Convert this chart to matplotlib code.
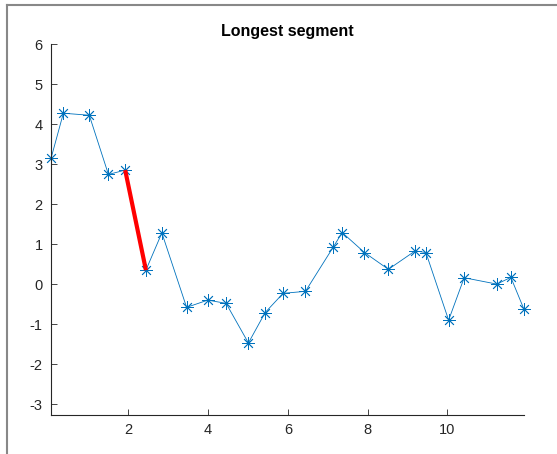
import numpy as np
import matplotlib.pyplot as plt
from matplotlib.lines import Line2D

# sample points
x = [0.06, 0.37, 1.02, 1.50, 1.92, 2.44, 2.84, 3.46, 3.99, 4.45, 5.01, 5.43, 5.88,
     6.44, 7.14, 7.36, 7.92, 8.52, 9.19, 9.46, 10.03, 10.42, 11.24, 11.59, 11.92]
y = [3.14, 4.27, 4.22, 2.74, 2.85, 0.35, 1.28, -0.58, -0.40, -0.48, -1.47, -0.71, -0.23,
     -0.18, 0.93, 1.29, 0.79, 0.37, 0.83, 0.79, -0.90, 0.16, 0.00, 0.17, -0.63]
yticks = [-3, -2, -1, 0, 1, 2, 3, 4, 5, 6]
xticks = [2, 4, 6, 8, 10]

plt.rcParams['font.family'] = ['Liberation Sans', 'DejaVu Sans']
plt.rcParams['axes.unicode_minus'] = False

xa = np.array(x)
ya = np.array(y)
seg = np.hypot(np.diff(xa), np.diff(ya))
k = int(np.argmax(seg))

fig = plt.figure(figsize=(5.57, 4.54), dpi=100)
ax = fig.add_axes([51 / 557, 39 / 454, 473 / 557, 371 / 454])

blue = '#0072BD'
ax.plot(xa, ya, '-', color=blue, lw=0.6, marker=(8, 2, 0), markersize=9,
        markeredgewidth=0.6, clip_on=False)
ax.plot(xa[k:k + 2], ya[k:k + 2], '-', color='red', lw=3, solid_capstyle='butt')

ax.set_xlim(x[0], x[-1])
ax.set_ylim(-3.27, 6)
ax.set_xticks(xticks)
ax.set_yticks(yticks)
ax.set_title('Longest segment', fontsize=11.5, fontweight='bold', pad=6)

for s in ['top', 'right']:
    ax.spines[s].set_visible(False)
for s in ['left', 'bottom']:
    ax.spines[s].set_color('#262626')
    ax.spines[s].set_linewidth(0.8)
ax.tick_params(direction='in', length=4, width=0.6, colors='#262626',
               labelsize=10.5, pad=6)

# window frame
fig.add_artist(Line2D([7 / 557, 7 / 557], [0, 1 - 5 / 454], transform=fig.transFigure,
                      color='#888888', lw=1.5))
fig.add_artist(Line2D([7 / 557, 1], [1 - 5 / 454, 1 - 5 / 454], transform=fig.transFigure,
                      color='#888888', lw=1.5))

fig.savefig('out.png', dpi=100)
